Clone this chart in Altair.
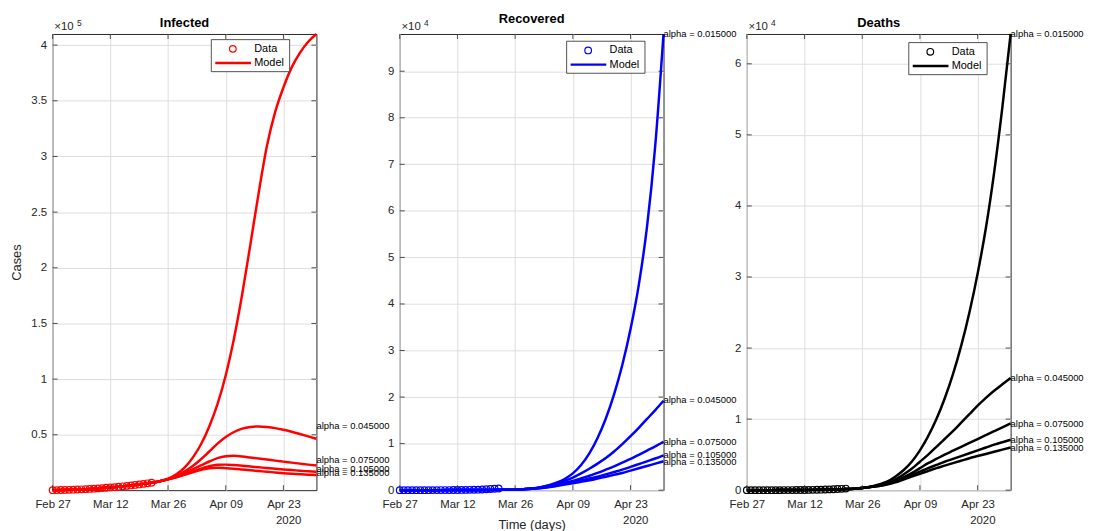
import altair as alt
import pandas as pd

FONT = "Liberation Sans"
AX = "#262626"

# ---------------- data ----------------
TICK_DAYS = [0, 14, 28, 42, 56]
TICK_LABELS = ["Feb 27", "Mar 12", "Mar 26", "Apr 09", "Apr 23"]
YEAR_LABEL = "2020"
DATA_DAYS = list(range(25))            # Feb 27 .. Mar 22
MODEL_DAYS = list(range(0, 65, 2))     # Feb 27 .. May 01, every 2 days
ALPHAS = [0.015, 0.045, 0.075, 0.105, 0.135]

# Infected (x 1e5)
INF_DATA = [0.0025, 0.003, 0.0038, 0.0047, 0.0058, 0.007, 0.0085, 0.01, 0.0118, 0.0138,
            0.016, 0.0185, 0.021, 0.024, 0.027, 0.03, 0.0335, 0.037, 0.041, 0.045,
            0.0495, 0.054, 0.059, 0.064, 0.069]
INF_EARLY = [0.0025, 0.0038, 0.0058, 0.0085, 0.0118, 0.016, 0.021, 0.027, 0.0335, 0.041,
             0.0495, 0.059, 0.069, 0.083]
INF_A015 = [0.105, 0.145, 0.205, 0.295, 0.415, 0.575, 0.775, 1.035, 1.365, 1.765, 2.215,
            2.675, 3.095, 3.40, 3.62, 3.80, 3.93, 4.03, 4.10]
INF_A045 = [0.102, 0.13, 0.17, 0.22, 0.28, 0.35, 0.42, 0.48, 0.525, 0.555, 0.57, 0.575,
            0.57, 0.56, 0.545, 0.527, 0.507, 0.486, 0.464]
INF_A075 = [0.101, 0.125, 0.155, 0.19, 0.225, 0.26, 0.29, 0.307, 0.312, 0.305, 0.296,
            0.287, 0.278, 0.268, 0.259, 0.25, 0.241, 0.232, 0.224]
INF_A105 = [0.1, 0.12, 0.145, 0.17, 0.195, 0.218, 0.23, 0.232, 0.228, 0.222, 0.215, 0.208,
            0.201, 0.195, 0.189, 0.183, 0.177, 0.172, 0.167]
INF_A135 = [0.1, 0.118, 0.14, 0.163, 0.185, 0.2, 0.203, 0.2, 0.195, 0.188, 0.181, 0.174,
            0.168, 0.161, 0.155, 0.15, 0.146, 0.142, 0.138]
INF_LABEL_ALPHAS = [0.045, 0.075, 0.105, 0.135]
INF_LABEL_Y = [0.58, 0.277, 0.194, 0.152]

# Recovered (x 1e4)
REC_DATA = [0, 0, 0, 0, 0, 0, 0.0005, 0.0005, 0.001, 0.001, 0.0015, 0.002, 0.0025, 0.003,
            0.004, 0.005, 0.006, 0.007, 0.008, 0.01, 0.015, 0.02, 0.025, 0.03, 0.035]
REC_EARLY = [0, 0, 0, 0, 0.0005, 0.001, 0.0015, 0.002, 0.003, 0.004, 0.005, 0.006, 0.008,
             0.009]
REC_A015 = [0.01, 0.02, 0.035, 0.06, 0.1, 0.16, 0.24, 0.36, 0.54, 0.79, 1.12, 1.54, 2.06,
            2.69, 3.46, 4.41, 5.66, 7.41, 9.8]
REC_A045 = [0.01, 0.02, 0.035, 0.06, 0.095, 0.14, 0.2, 0.27, 0.36, 0.46, 0.57, 0.69, 0.83,
            0.99, 1.16, 1.34, 1.53, 1.72, 1.92]
REC_A075 = [0.01, 0.02, 0.03, 0.05, 0.08, 0.12, 0.16, 0.2, 0.25, 0.31, 0.37, 0.44, 0.51,
            0.59, 0.67, 0.76, 0.85, 0.94, 1.04]
REC_A105 = [0.01, 0.02, 0.03, 0.045, 0.07, 0.1, 0.13, 0.17, 0.21, 0.25, 0.29, 0.34, 0.39,
            0.44, 0.5, 0.56, 0.62, 0.68, 0.75]
REC_A135 = [0.01, 0.02, 0.03, 0.04, 0.06, 0.09, 0.12, 0.15, 0.18, 0.21, 0.25, 0.29, 0.33,
            0.37, 0.42, 0.47, 0.52, 0.57, 0.62]
REC_LABEL_ALPHAS = ALPHAS
REC_LABEL_Y = [9.8, 1.94, 1.04, 0.75, 0.61]

# Deaths (x 1e4)
DEA_DATA = [0, 0, 0, 0, 0, 0, 0, 0.0005, 0.0005, 0.001, 0.001, 0.0015, 0.002, 0.0025,
            0.003, 0.004, 0.005, 0.006, 0.007, 0.009, 0.011, 0.013, 0.016, 0.019, 0.022]
DEA_EARLY = [0, 0, 0.0002, 0.0005, 0.001, 0.0015, 0.002, 0.003, 0.004, 0.006, 0.008, 0.011,
             0.015, 0.021]
DEA_A015 = [0.03, 0.05, 0.08, 0.12, 0.19, 0.28, 0.4, 0.56, 0.76, 1.0, 1.29, 1.63, 2.03, 2.5,
            3.05, 3.69, 4.47, 5.39, 6.42]
DEA_A045 = [0.03, 0.05, 0.07, 0.1, 0.15, 0.22, 0.3, 0.4, 0.5, 0.61, 0.72, 0.83, 0.95, 1.07,
            1.19, 1.3, 1.4, 1.49, 1.58]
DEA_A075 = [0.03, 0.045, 0.065, 0.09, 0.13, 0.18, 0.24, 0.31, 0.38, 0.44, 0.5, 0.555, 0.61,
            0.665, 0.72, 0.775, 0.83, 0.885, 0.94]
DEA_A105 = [0.03, 0.045, 0.06, 0.085, 0.12, 0.16, 0.21, 0.26, 0.31, 0.355, 0.4, 0.44, 0.48,
            0.52, 0.56, 0.6, 0.64, 0.675, 0.71]
DEA_A135 = [0.03, 0.045, 0.06, 0.08, 0.11, 0.15, 0.19, 0.23, 0.27, 0.31, 0.345, 0.38, 0.415,
            0.45, 0.48, 0.51, 0.54, 0.57, 0.6]
DEA_LABEL_ALPHAS = ALPHAS
DEA_LABEL_Y = [6.42, 1.58, 0.93, 0.70, 0.60]

W, H = 266, 460
TL = 5  # inner tick length (MATLAB style)

x_label_expr = " : ".join(f"datum.value == {d} ? '{l}'" for d, l in zip(TICK_DAYS, TICK_LABELS)) + " : ''"


def panel(title, title_y, color, data_vals, early, late_lists, label_alphas, label_ys,
          ydomain, yticks, exponent, legend_off, xtitle=None, ytitle=None):
    pts = pd.DataFrame({"day": DATA_DAYS, "v": data_vals})
    rows = []
    for a, late in zip(ALPHAS, late_lists):
        for d, v in zip(MODEL_DAYS, early + late):
            rows.append({"day": d, "v": v, "alpha": a})
    mdf = pd.DataFrame(rows)
    ldf = pd.DataFrame({"day": [MODEL_DAYS[-1]] * len(label_alphas), "v": label_ys,
                        "t": [f"alpha = {a:.6f}" for a in label_alphas]})
    xt = pd.DataFrame({"day": TICK_DAYS})
    yt = pd.DataFrame({"v": yticks})

    xs = alt.Scale(domain=[0, 64], nice=False, zero=False)
    ys = alt.Scale(domain=ydomain, nice=False, zero=False)
    x = alt.X("day:Q", scale=xs,
              axis=alt.Axis(values=TICK_DAYS, labelExpr=x_label_expr, title=xtitle,
                            labelFlush=False, labelPadding=8, titlePadding=9))
    y = alt.Y("v:Q", scale=ys,
              axis=alt.Axis(values=yticks, labelExpr="'' + datum.value", title=ytitle,
                            titlePadding=7))
    xn = alt.X("day:Q", scale=xs)
    yn = alt.Y("v:Q", scale=ys)

    points = alt.Chart(pts).mark_point(shape="circle", filled=False, size=45,
                                       strokeWidth=1.2, color=color, opacity=1).encode(x=x, y=y)
    lines = alt.Chart(mdf).mark_line(color=color, strokeWidth=2.5,
                                     interpolate="monotone").encode(x=xn, y=yn, detail="alpha:N")
    labels = alt.Chart(ldf).mark_text(align="left", baseline="middle", fontSize=9.5,
                                      font=FONT, color="black").encode(x=xn, y=yn, text="t:N")

    # inner tick marks on all four sides
    tk = dict(color=AX, strokeWidth=0.8)
    xt_bot = alt.Chart(xt).mark_rule(**tk).encode(x=xn, y=alt.value(H), y2=alt.value(H - TL))
    xt_top = alt.Chart(xt).mark_rule(**tk).encode(x=xn, y=alt.value(0), y2=alt.value(TL))
    yt_l = alt.Chart(yt).mark_rule(**tk).encode(y=yn, x=alt.value(0), x2=alt.value(TL))
    yt_r = alt.Chart(yt).mark_rule(**tk).encode(y=yn, x=alt.value(W - TL), x2=alt.value(W))

    one = pd.DataFrame({"k": [0]})
    ttl = alt.Chart(one).mark_text(align="center", baseline="middle", fontSize=13,
                                   fontWeight="bold", font=FONT, color="black",
                                   text=title).encode(x=alt.value(W / 2), y=alt.value(title_y))
    exp_main = alt.Chart(one).mark_text(align="left", baseline="middle", fontSize=11.5,
                                        font=FONT, color=AX, text="\u00d710").encode(
        x=alt.value(1.7), y=alt.value(-7))
    exp_sup = alt.Chart(one).mark_text(align="left", baseline="middle", fontSize=8.5,
                                       font=FONT, color=AX, text=exponent).encode(
        x=alt.value(24.5), y=alt.value(-11.5))
    year = alt.Chart(one).mark_text(align="center", baseline="middle", fontSize=11.5,
                                    font=FONT, color=AX, text=YEAR_LABEL).encode(
        x=alt.value(238), y=alt.value(H + 31))

    dx, dy = legend_off
    box = alt.Chart(one).mark_rect(fill="white", stroke=AX, strokeWidth=0.8).encode(
        x=alt.value(dx), x2=alt.value(dx + 79), y=alt.value(dy), y2=alt.value(dy + 32.3))
    lg_pt = alt.Chart(one).mark_point(shape="circle", filled=False, size=45, strokeWidth=1.2,
                                      color=color, opacity=1).encode(
        x=alt.value(dx + 21.7), y=alt.value(dy + 9.3))
    lg_ln = alt.Chart(one).mark_rule(color=color, strokeWidth=2.5).encode(
        x=alt.value(dx + 4), x2=alt.value(dx + 40), y=alt.value(dy + 23.6))
    lg_t1 = alt.Chart(one).mark_text(align="left", baseline="middle", fontSize=11,
                                     font=FONT, color="black", text="Data").encode(
        x=alt.value(dx + 43.3), y=alt.value(dy + 9.3))
    lg_t2 = alt.Chart(one).mark_text(align="left", baseline="middle", fontSize=11,
                                     font=FONT, color="black", text="Model").encode(
        x=alt.value(dx + 43.3), y=alt.value(dy + 23.6))

    return alt.layer(points, lines, labels, xt_bot, xt_top, yt_l, yt_r,
                     ttl, exp_main, exp_sup, year,
                     box, lg_pt, lg_ln, lg_t1, lg_t2).properties(width=W, height=H)


p1 = panel("Infected", -11.3, "#ff0000", INF_DATA, INF_EARLY,
           [INF_A015, INF_A045, INF_A075, INF_A105, INF_A135],
           INF_LABEL_ALPHAS, INF_LABEL_Y, [0.0025, 4.1],
           [0.5, 1, 1.5, 2, 2.5, 3, 3.5, 4], "5", (160, 5.7), ytitle="Cases")
p2 = panel("Recovered", -14.7, "#0000ff", REC_DATA, REC_EARLY,
           [REC_A015, REC_A045, REC_A075, REC_A105, REC_A135],
           REC_LABEL_ALPHAS, REC_LABEL_Y, [0, 9.8],
           [0, 1, 2, 3, 4, 5, 6, 7, 8, 9], "4", (168.3, 7.3), xtitle="Time (days)")
p3 = panel("Deaths", -11.3, "#000000", DEA_DATA, DEA_EARLY,
           [DEA_A015, DEA_A045, DEA_A075, DEA_A105, DEA_A135],
           DEA_LABEL_ALPHAS, DEA_LABEL_Y, [0, 6.42],
           [0, 1, 2, 3, 4, 5, 6], "4", (163.3, 8.7))

chart = alt.hconcat(p1, p2, p3, spacing=84, bounds="flush").resolve_scale(
    x="independent", y="independent"
).properties(
    padding={"left": 2, "top": 2, "right": 0, "bottom": 0}, background="white"
).configure_view(
    stroke=AX, strokeWidth=1
).configure_axis(
    domain=False, ticks=False, grid=True, gridColor="#dedede", gridWidth=1,
    labelFont=FONT, labelFontSize=11.5, labelColor=AX, labelPadding=6,
    titleFont=FONT, titleFontSize=13, titleFontWeight="normal", titleColor=AX
)

chart.save("out.html", embed_options={"renderer": "svg", "actions": False})
